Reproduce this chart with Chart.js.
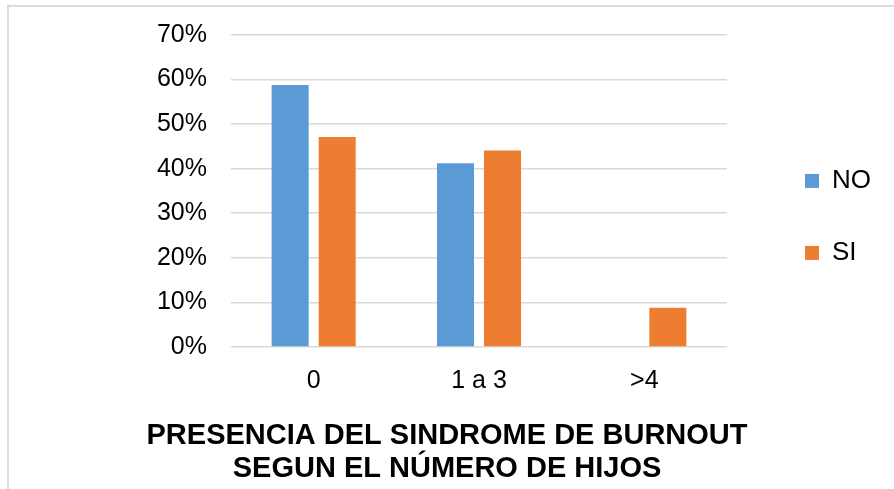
<!DOCTYPE html>
<html>
<head>
<meta charset="utf-8">
<script src="https://cdn.jsdelivr.net/npm/chart.js@4.4.0/dist/chart.umd.min.js"></script>
<style>
  html, body { margin: 0; padding: 0; background: #fff; }
  #wrap { position: relative; width: 894px; height: 489px; overflow: hidden; }
  #frame { position: absolute; left: 7px; top: 5px; width: 1000px; height: 600px; border: 0 solid #dcdcdc; border-width: 2px 0 0 2px; }
  canvas { position: absolute; left: 0; top: 0; }
</style>
</head>
<body>
<div id="wrap">
  <div id="frame"></div>
  <canvas id="chart" width="894" height="489"></canvas>
</div>
<script>
// datos
const categorias = ['0', '1 a 3', '>4'];
const valoresNO = [58.8, 41.2, 0];
const valoresSI = [47.1, 44.1, 8.8];
const ticksY = [0, 10, 20, 30, 40, 50, 60, 70];
const titulo = ['PRESENCIA DEL SINDROME DE BURNOUT', 'SEGUN EL NÚMERO DE HIJOS'];

const fuente = 'Arial, "Liberation Sans", sans-serif';

// la leyenda de Excel queda más separada del área del gráfico
const moverLeyenda = {
  id: 'moverLeyenda',
  afterLayout(chart) {
    const l = chart.legend;
    const ca = chart.chartArea;
    l.left += 32;
    l.right += 32;
    l.top = ca.top + 26;
    l.bottom = ca.bottom + 26;
  },
};

const ctx = document.getElementById('chart').getContext('2d');
const chart = new Chart(ctx, {
  type: 'bar',
  data: {
    labels: categorias,
    datasets: [
      {
        label: 'NO',
        data: valoresNO,
        backgroundColor: '#5b9bd5',
        categoryPercentage: 0.569,
        barPercentage: 0.787,
      },
      {
        label: 'SI',
        data: valoresSI,
        backgroundColor: '#ed7d31',
        categoryPercentage: 0.569,
        barPercentage: 0.787,
      },
    ],
  },
  plugins: [moverLeyenda],
  options: {
    responsive: false,
    animation: false,
    layout: {
      padding: { top: 35, left: 45, right: 45, bottom: 3 },
    },
    plugins: {
      legend: {
        position: 'right',
        labels: {
          boxWidth: 14,
          boxHeight: 14,
          padding: 46,
          color: '#000',
          font: { family: fuente, size: 26 },
        },
      },
      title: {
        display: true,
        position: 'bottom',
        text: titulo,
        color: '#000',
        padding: { top: 10, bottom: 0 },
        font: { family: fuente, size: 29, weight: 'bold', lineHeight: 1.14 },
      },
      tooltip: { enabled: false },
    },
    scales: {
      x: {
        grid: { display: false, drawTicks: false },
        border: { display: false },
        ticks: {
          color: '#000',
          padding: 19,
          font: { family: fuente, size: 25 },
        },
        afterFit: (axis) => {
          axis.height = 63;
        },
      },
      y: {
        min: 0,
        max: 70,
        afterBuildTicks: (axis) => {
          axis.ticks = ticksY.map((v) => ({ value: v }));
        },
        grid: { color: '#d9d9d9', lineWidth: 1.5, drawTicks: false },
        border: { display: false },
        ticks: {
          color: '#000',
          padding: 24,
          callback: (v) => v + '%',
          font: { family: fuente, size: 25 },
        },
        afterFit: (axis) => {
          axis.width = 186;
          axis.paddingTop = 0;
          axis.paddingBottom = 0;
        },
      },
    },
  },
});
</script>
</body>
</html>
